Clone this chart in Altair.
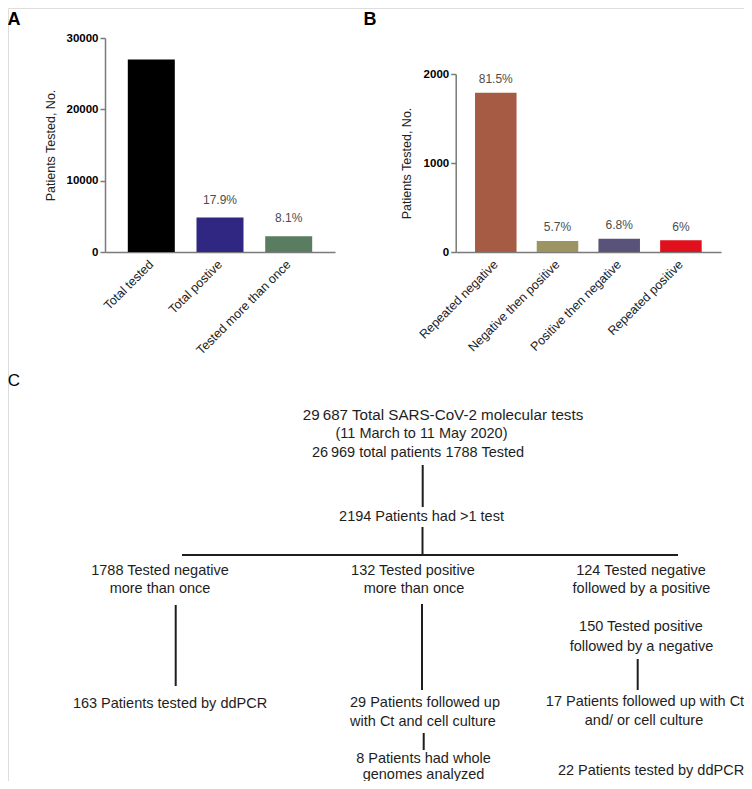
import altair as alt
import pandas as pd

FONT = "Liberation Sans"

# ---------------- Panel A data ----------------
a_categories = ["Total tested", "Total postive", "Tested more than once"]
a_values = [26969, 4827, 2194]
a_labels = ["", "17.9%", "8.1%"]
a_colors = ["#000000", "#2f2781", "#5a7d62"]
a_ticks = [0, 10000, 20000, 30000]

# ---------------- Panel B data ----------------
b_categories = ["Repeated negative", "Negative then positive",
                "Positive then negative", "Repeated positive"]
b_values = [1788, 124, 150, 132]
b_labels = ["81.5%", "5.7%", "6.8%", "6%"]
b_colors = ["#a65c44", "#9c9563", "#5a5379", "#e0101c"]
b_ticks = [0, 1000, 2000]

# ---------------- Panel C (flow chart) ----------------
TS = "\u2009"
flow_title = [f"29{TS}687 Total SARS-CoV-2 molecular tests"]
flow_title_x = [443]
flow_title_y = [415]

flow_texts = [
    "(11 March to 11 May 2020)",
    f"26{TS}969 total patients 1788 Tested",
    "2194 Patients had >1 test",
    "1788 Tested negative",
    "more than once",
    "132 Tested positive",
    "more than once",
    "124 Tested negative",
    "followed by a positive",
    "150 Tested positive",
    "followed by a negative",
    "163 Patients tested by ddPCR",
    "29 Patients followed up",
    "with Ct and cell culture",
    "17 Patients followed up with Ct",
    "and/ or cell culture",
    "8 Patients had whole",
    "genomes analyzed",
    "22 Patients tested by ddPCR",
]
# layout of the diagram (page coordinates of each text's centre)
flow_x = [421.5, 418, 421.5, 160, 160, 413, 414, 641, 641.5,
          641, 641.5, 170, 425, 423, 645, 644, 423.5, 423.5, 651]
flow_y = [434, 453, 517, 571, 589, 571, 589, 571, 589,
          627, 647, 704, 703, 722, 702, 721, 759, 775, 771]

# connector segments of the diagram
seg_x1 = [422.7, 422.5, 182, 175.7, 422, 423.7, 637.7]
seg_y1 = [465, 527, 555, 605, 604, 733, 659]
seg_x2 = [422.7, 422.5, 678, 175.7, 422, 423.7, 637.7]
seg_y2 = [507, 555, 555, 686, 690, 750, 690]

panel_letters = ["A", "B", "C"]
panel_x = [14, 370, 14]
panel_y = [20, 20, 381]
panel_weight = ["bold", "bold", "normal"]

W, H = 736, 773

dfA = pd.DataFrame({"cat": a_categories, "n": a_values, "pct": a_labels, "color": a_colors})
dfB = pd.DataFrame({"cat": b_categories, "n": b_values, "pct": b_labels, "color": b_colors})
dfT = pd.DataFrame({"x": flow_x, "y": flow_y, "t": flow_texts})
dfT1 = pd.DataFrame({"x": flow_title_x, "y": flow_title_y, "t": flow_title})
dfS = pd.DataFrame({"x": seg_x1, "y": seg_y1, "x2": seg_x2, "y2": seg_y2})
dfP = pd.DataFrame({"x": panel_x, "y": panel_y, "t": panel_letters, "w": panel_weight})

AXIS_GRAY = "#7a7a7a"


def x_axis(offset):
    return alt.Axis(orient="bottom", offset=offset, labelAngle=-45, ticks=False,
                    labelPadding=10, labelBaseline="middle", labelAlign="right",
                    labelFontSize=12.5, labelColor="#222222",
                    labelFont=FONT, domainColor=AXIS_GRAY, domainWidth=1.5,
                    labelOverlap=False, labelLimit=300, grid=False)


def y_axis(offset, values, tpad):
    return alt.Axis(orient="left", offset=offset, values=values, format="d",
                    tickSize=5, tickColor=AXIS_GRAY, tickWidth=1.5,
                    domainColor=AXIS_GRAY, domainWidth=1.5,
                    labelFont=FONT, labelFontSize=11.5, labelFontWeight="bold",
                    labelColor="#000000", labelPadding=2,
                    titleFont=FONT, titleFontSize=12.5, titleFontWeight="normal",
                    titleColor="#222222", titlePadding=tpad, grid=False)


# ---- Panel A ----
xA = alt.X("cat:N", sort=a_categories, title=None,
           scale=alt.Scale(range=[97, 327], paddingInner=0.316, paddingOuter=0.332),
           axis=x_axis(-(H - 244)))
yA = alt.Y("n:Q", title="Patients Tested, No.",
           scale=alt.Scale(domain=[0, 30000], range=[244, 30], nice=False),
           axis=y_axis(-97, a_ticks, 9))
barsA = alt.Chart(dfA).mark_bar().encode(x=xA, y=yA, color=alt.Color("color:N", scale=None))
textA = alt.Chart(dfA).mark_text(dy=-18, fontSize=12, font=FONT, color="#4d4d4d").encode(
    x=xA, y=yA, text="pct:N")
layerA = alt.layer(barsA, textA)

# ---- Panel B ----
xB = alt.X("cat:N", sort=b_categories, title=None,
           scale=alt.Scale(range=[447.7, 713], paddingInner=0.327, paddingOuter=0.313),
           axis=x_axis(-(H - 244)))
yB = alt.Y("n:Q", title="Patients Tested, No.",
           scale=alt.Scale(domain=[0, 2000], range=[244, 66], nice=False),
           axis=y_axis(-447.7, b_ticks, 10))
barsB = alt.Chart(dfB).mark_bar().encode(x=xB, y=yB, color=alt.Color("color:N", scale=None))
textB = alt.Chart(dfB).mark_text(dy=-13.5, fontSize=12, font=FONT, color="#4d4d4d").encode(
    x=xB, y=yB, text="pct:N")
layerB = alt.layer(barsB, textB)

# ---- Panel C ----
xC = alt.X("x:Q", scale=alt.Scale(domain=[8, 8 + W], range=[0, W], nice=False, zero=False), axis=None)
yC = alt.Y("y:Q", scale=alt.Scale(domain=[8, 8 + H], range=[0, H], nice=False, zero=False), axis=None)
rules = alt.Chart(dfS).mark_rule(color="#1e1e1e", strokeWidth=2).encode(
    x=xC, y=yC, x2="x2:Q", y2="y2:Q")
ftitle = alt.Chart(dfT1).mark_text(font=FONT, fontSize=15.2, color="#1e1e1e",
                                   align="center", baseline="middle").encode(
    x=xC, y=yC, text="t:N")
ftext = alt.Chart(dfT).mark_text(font=FONT, fontSize=14.5, color="#1e1e1e",
                                 align="center", baseline="middle").encode(
    x=xC, y=yC, text="t:N")
letters_bold = alt.Chart(dfP).transform_filter(alt.datum.w == "bold").mark_text(
    font=FONT, fontSize=18, fontWeight="bold", color="#000000",
    align="center", baseline="middle").encode(x=xC, y=yC, text="t:N")
letters_norm = alt.Chart(dfP).transform_filter(alt.datum.w == "normal").mark_text(
    font=FONT, fontSize=17, color="#000000",
    align="center", baseline="middle").encode(x=xC, y=yC, text="t:N")
layerC = alt.layer(rules, ftitle, ftext, letters_bold, letters_norm)

chart = alt.layer(layerA, layerB, layerC).resolve_scale(
    x="independent", y="independent"
).properties(
    width=W, height=H, padding=0,
    autosize=alt.AutoSizeParams(type="none"),
).configure_view(stroke=None).configure(background="white")

chart.save("out.html", embed_options={"renderer": "svg", "actions": False})
